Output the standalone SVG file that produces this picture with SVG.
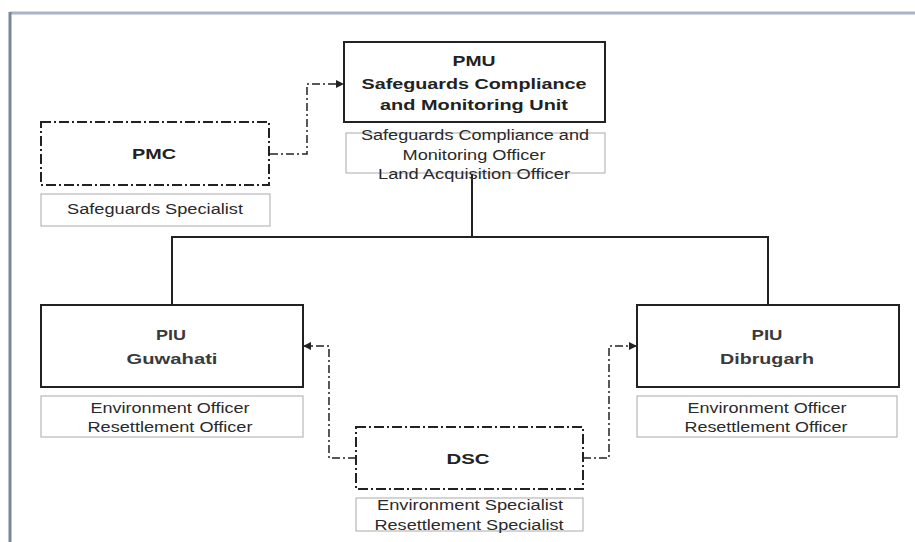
<svg xmlns="http://www.w3.org/2000/svg" width="915" height="542" viewBox="0 0 915 542">
<style>
.main{fill:#fff;stroke:#222;stroke-width:2}
.dash{fill:#fff;stroke:#222;stroke-width:2;stroke-dasharray:10 3 2 3}
.sub{fill:#fff;stroke:#aaa;stroke-width:1}
.t{font-family:"Liberation Sans",Arial,sans-serif;font-size:15px;font-weight:bold;fill:#222;text-anchor:middle}
.p{font-family:"Liberation Sans",Arial,sans-serif;font-size:15px;font-weight:bold;fill:#3a3a3a;text-anchor:middle}
.s{font-family:"Liberation Sans",Arial,sans-serif;font-size:14px;fill:#2a2a2a;text-anchor:middle}
.line{fill:none;stroke:#222;stroke-width:2}
.dline{fill:none;stroke:#222;stroke-width:1.5;stroke-dasharray:8 3 2 3}
</style>
<defs>
<marker id="arr" markerWidth="8" markerHeight="8" refX="7" refY="4" orient="auto" markerUnits="userSpaceOnUse">
<path d="M0,0 L8,4 L0,8 Z" fill="#222"/>
</marker>
</defs>
<rect width="915" height="542" fill="#fff"/>
<g id="frame">
<line x1="10" y1="13" x2="915" y2="13" stroke="#a8b3c5" stroke-width="3"/>
<line x1="10" y1="12" x2="10" y2="542" stroke="#7c8699" stroke-width="3"/>
</g>
<g id="connectors">
<polyline class="line" points="472,174 472,237"/>
<polyline class="line" points="172,305 172,237 768,237 768,305"/>
<polyline class="dline" points="270,154 307,154 307,84 343,84" marker-end="url(#arr)"/>
<polyline class="dline" points="356,458 329,458 329,346 304,346" marker-end="url(#arr)"/>
<polyline class="dline" points="583,458 609,458 609,346 636,346" marker-end="url(#arr)"/>
</g>
<g id="pmu">
<rect class="main" x="344" y="42" width="261" height="80"/>
<text class="t" x="474" y="66" textLength="43" lengthAdjust="spacingAndGlyphs">PMU</text>
<text class="t" x="474" y="89" textLength="225" lengthAdjust="spacingAndGlyphs">Safeguards Compliance</text>
<text class="t" x="474" y="110" textLength="188" lengthAdjust="spacingAndGlyphs">and Monitoring Unit</text>
</g>
<g id="pmu-staff">
<rect class="sub" x="346" y="133" width="259" height="40"/>
<text class="s" x="475" y="140" textLength="228" lengthAdjust="spacingAndGlyphs">Safeguards Compliance and</text>
<text class="s" x="474" y="160" textLength="143" lengthAdjust="spacingAndGlyphs">Monitoring Officer</text>
<text class="s" x="474" y="179" textLength="192" lengthAdjust="spacingAndGlyphs">Land Acquisition Officer</text>
</g>
<g id="pmc">
<rect class="dash" x="41" y="122" width="228" height="63"/>
<text class="t" x="154" y="159" textLength="44" lengthAdjust="spacingAndGlyphs">PMC</text>
</g>
<g id="pmc-staff">
<rect class="sub" x="41" y="194" width="229" height="32"/>
<text class="s" x="155" y="214" textLength="176" lengthAdjust="spacingAndGlyphs">Safeguards Specialist</text>
</g>
<g id="piu-guwahati">
<rect class="main" x="41" y="305" width="262" height="82"/>
<text class="p" x="171" y="340" textLength="30" lengthAdjust="spacingAndGlyphs">PIU</text>
<text class="p" x="172" y="364" textLength="91" lengthAdjust="spacingAndGlyphs">Guwahati</text>
</g>
<g id="piu-guwahati-staff">
<rect class="sub" x="41" y="396" width="262" height="41"/>
<text class="s" x="170" y="413" textLength="159" lengthAdjust="spacingAndGlyphs">Environment Officer</text>
<text class="s" x="170" y="432" textLength="165" lengthAdjust="spacingAndGlyphs">Resettlement Officer</text>
</g>
<g id="piu-dibrugarh">
<rect class="main" x="637" y="305" width="262" height="82"/>
<text class="p" x="767" y="340" textLength="31" lengthAdjust="spacingAndGlyphs">PIU</text>
<text class="p" x="767" y="364" textLength="94" lengthAdjust="spacingAndGlyphs">Dibrugarh</text>
</g>
<g id="piu-dibrugarh-staff">
<rect class="sub" x="637" y="396" width="260" height="41"/>
<text class="s" x="767" y="413" textLength="159" lengthAdjust="spacingAndGlyphs">Environment Officer</text>
<text class="s" x="766" y="432" textLength="163" lengthAdjust="spacingAndGlyphs">Resettlement Officer</text>
</g>
<g id="dsc">
<rect class="dash" x="356" y="427" width="227" height="62"/>
<text class="t" x="468" y="464" textLength="43" lengthAdjust="spacingAndGlyphs">DSC</text>
</g>
<g id="dsc-staff">
<rect class="sub" x="356" y="498" width="227" height="33"/>
<text class="s" x="470" y="510" textLength="186" lengthAdjust="spacingAndGlyphs">Environment Specialist</text>
<text class="s" x="469" y="530" textLength="189" lengthAdjust="spacingAndGlyphs">Resettlement Specialist</text>
</g>
</svg>
